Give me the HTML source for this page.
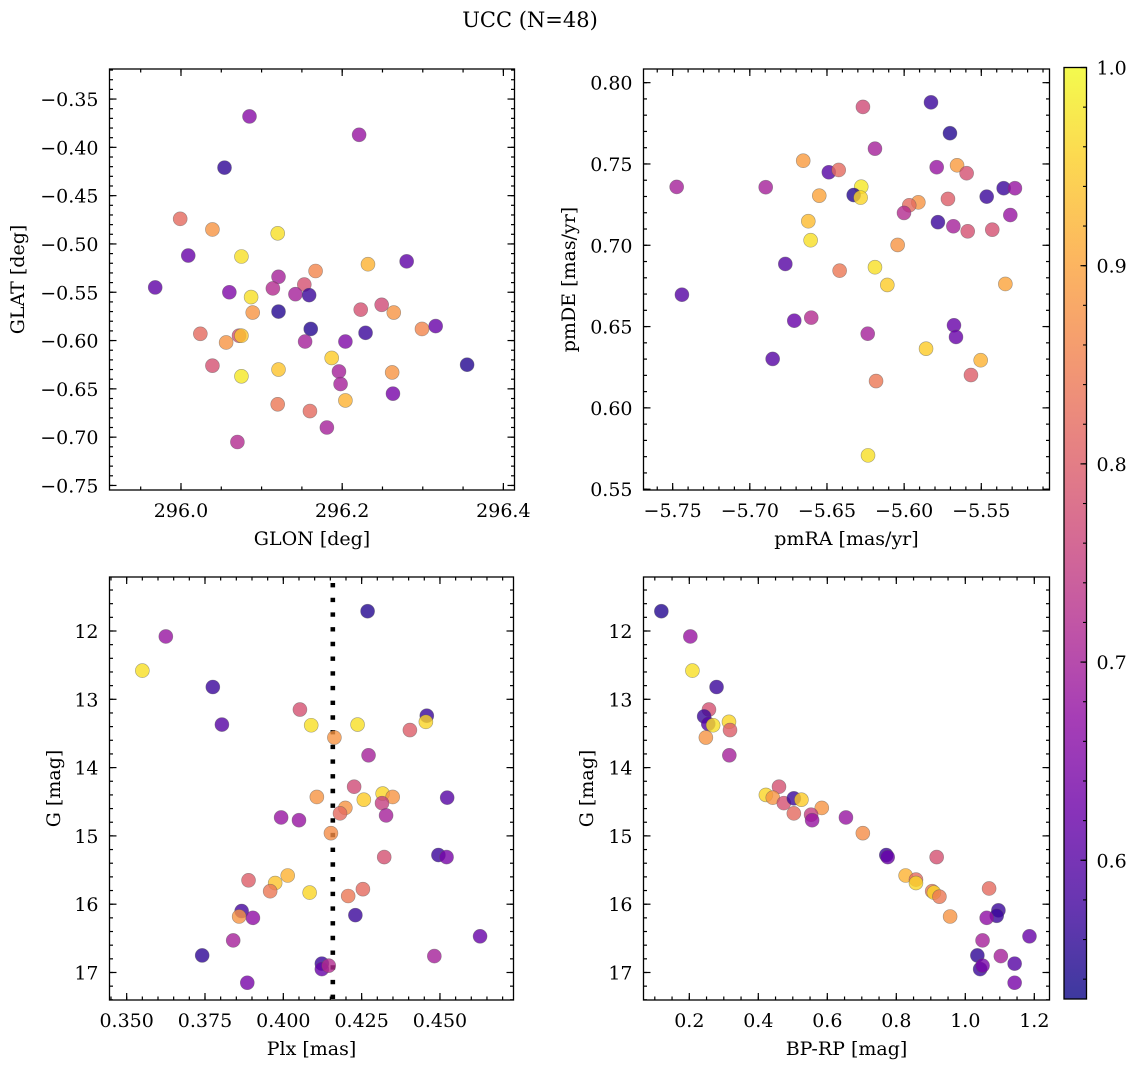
<!DOCTYPE html>
<html><head><meta charset="utf-8">
<style>
html,body{margin:0;padding:0;background:#fff;}
svg{display:block;font-family:"DejaVu Serif","Liberation Serif",serif;}
</style></head>
<body>
<svg id="fig" width="1136" height="1067" viewBox="0 0 1136 1067" xmlns="http://www.w3.org/2000/svg">
<text x="530" y="27" font-size="21" text-anchor="middle">UCC (N=48)</text>
</svg>
<script>
// ---- data (per panel) ----
const p1_glon=[296.085,296.221,296.054,295.999,296.039,296.120,296.009,296.075,296.280,296.232,296.167,296.121,296.114,295.968,296.153,296.060,296.087,296.142,296.159,296.223,296.249,296.121,296.089,296.264,296.299,296.316,296.161,296.229,296.024,296.072,296.075,296.056,296.154,296.204,296.187,296.355,296.039,296.196,296.262,296.121,296.075,296.198,296.263,296.204,296.120,296.160,296.181,296.070];
const p1_glat=[-0.368,-0.387,-0.421,-0.474,-0.485,-0.489,-0.512,-0.513,-0.518,-0.521,-0.528,-0.534,-0.546,-0.545,-0.542,-0.550,-0.555,-0.552,-0.553,-0.568,-0.563,-0.570,-0.571,-0.571,-0.588,-0.585,-0.588,-0.592,-0.593,-0.595,-0.595,-0.602,-0.601,-0.601,-0.618,-0.625,-0.626,-0.632,-0.633,-0.630,-0.637,-0.645,-0.655,-0.662,-0.666,-0.673,-0.690,-0.705];
const p1_prob=[0.66,0.68,0.56,0.82,0.88,0.97,0.62,0.97,0.61,0.92,0.86,0.70,0.72,0.61,0.78,0.65,0.97,0.70,0.57,0.78,0.77,0.55,0.88,0.88,0.86,0.62,0.55,0.57,0.82,0.78,0.94,0.88,0.70,0.65,0.95,0.55,0.78,0.70,0.88,0.94,0.98,0.70,0.64,0.92,0.84,0.82,0.70,0.72];

const p2_pmra=[-5.6267,-5.5826,-5.5703,-5.6189,-5.6654,-5.6488,-5.6424,-5.5789,-5.5657,-5.5595,-5.7474,-5.6897,-5.6278,-5.6327,-5.6282,-5.6550,-5.5355,-5.5282,-5.5465,-5.5716,-5.5908,-5.5967,-5.6001,-5.6621,-5.5781,-5.5681,-5.5312,-5.5588,-5.5429,-5.6606,-5.6042,-5.6770,-5.6418,-5.6189,-5.6109,-5.5344,-5.7440,-5.6712,-5.6602,-5.6236,-5.5677,-5.5664,-5.5858,-5.5504,-5.6852,-5.5567,-5.6182,-5.6234];
const p2_pmde=[0.7851,0.7879,0.7689,0.7594,0.7520,0.7449,0.7463,0.7480,0.7492,0.7443,0.7359,0.7357,0.7360,0.7309,0.7293,0.7305,0.7351,0.7351,0.7299,0.7285,0.7264,0.7246,0.7199,0.7148,0.7142,0.7117,0.7186,0.7086,0.7096,0.7031,0.7002,0.6885,0.6844,0.6865,0.6756,0.6762,0.6696,0.6536,0.6555,0.6456,0.6508,0.6436,0.6364,0.6293,0.6301,0.6202,0.6165,0.5708];
const p2_prob=[0.77,0.57,0.55,0.70,0.89,0.60,0.82,0.68,0.89,0.78,0.70,0.70,0.98,0.55,0.96,0.90,0.57,0.68,0.57,0.80,0.88,0.82,0.72,0.93,0.57,0.70,0.68,0.78,0.78,0.97,0.88,0.60,0.84,0.97,0.95,0.90,0.60,0.62,0.72,0.70,0.62,0.62,0.95,0.92,0.60,0.80,0.84,0.97];

const p3_plx=[0.355,0.3625,0.3775,0.3804,0.4269,0.4053,0.4089,0.4163,0.4237,0.4272,0.4404,0.4458,0.4455,0.4226,0.4107,0.4257,0.4317,0.4349,0.4315,0.4328,0.4198,0.4181,0.3993,0.4050,0.4523,0.4152,0.4322,0.4495,0.4521,0.3889,0.3974,0.4014,0.3958,0.4084,0.4207,0.4254,0.3867,0.3859,0.3903,0.4230,0.3840,0.4628,0.3741,0.4482,0.4123,0.4123,0.4145,0.3885];
const p3_g=[12.58,12.08,12.82,13.37,11.71,13.15,13.38,13.56,13.37,13.82,13.45,13.24,13.33,14.28,14.43,14.47,14.38,14.43,14.52,14.70,14.59,14.67,14.73,14.77,14.44,14.96,15.31,15.28,15.31,15.65,15.69,15.58,15.81,15.83,15.88,15.78,16.10,16.18,16.20,16.16,16.53,16.47,16.75,16.76,16.87,16.95,16.90,17.15];
const p3_prob=[0.97,0.68,0.57,0.60,0.55,0.78,0.97,0.88,0.97,0.70,0.80,0.57,0.96,0.77,0.88,0.95,0.96,0.88,0.75,0.70,0.88,0.82,0.68,0.68,0.60,0.87,0.78,0.57,0.64,0.80,0.94,0.92,0.84,0.96,0.84,0.82,0.58,0.88,0.67,0.57,0.70,0.62,0.56,0.70,0.57,0.62,0.72,0.64];
const plxMedian=0.4158;

const p4_bprp=[0.119,0.203,0.209,0.279,0.257,0.243,0.255,0.269,0.315,0.318,0.248,0.316,0.460,0.422,0.442,0.474,0.503,0.525,0.584,0.503,0.553,0.556,0.654,0.703,0.771,0.775,0.917,0.827,0.857,0.857,0.904,0.909,0.925,0.956,1.069,1.096,1.091,1.062,1.050,1.186,1.035,1.103,1.143,1.043,1.050,1.143];
const p4_g=[11.71,12.08,12.58,12.82,13.15,13.25,13.36,13.38,13.33,13.45,13.56,13.82,14.28,14.40,14.44,14.52,14.45,14.47,14.59,14.67,14.69,14.77,14.73,14.96,15.28,15.31,15.31,15.58,15.64,15.69,15.81,15.83,15.89,16.18,15.77,16.09,16.17,16.20,16.53,16.47,16.75,16.76,16.87,16.95,16.90,17.15];
const p4_prob=[0.55,0.68,0.97,0.57,0.78,0.57,0.60,0.97,0.96,0.80,0.88,0.70,0.78,0.96,0.88,0.78,0.57,0.95,0.88,0.82,0.75,0.68,0.68,0.87,0.57,0.62,0.78,0.92,0.82,0.96,0.84,0.96,0.84,0.88,0.82,0.57,0.57,0.67,0.70,0.62,0.56,0.70,0.60,0.57,0.64,0.64];

const cbTicks=[0.6,0.7,0.8,0.9,1.0];

// ---- helpers ----
const NS="http://www.w3.org/2000/svg";
const svg=document.getElementById('fig');
function mk(tag,attrs,parent){const e=document.createElementNS(NS,tag);for(const k in attrs)e.setAttribute(k,attrs[k]);(parent||svg).appendChild(e);return e;}
const VMIN=0.53,VMAX=1.0;
const FS=19;
const stops=[[13,8,135],[65,4,157],[106,0,168],[143,13,164],[177,42,144],[204,71,120],[225,100,98],[242,132,75],[252,166,54],[252,206,37],[240,249,33]];
function plasma(t){t=Math.max(0,Math.min(1,t));const f=t*10;const i=Math.min(9,Math.floor(f));const r=f-i;const a=stops[i],b=stops[i+1];
 return 'rgb('+[0,1,2].map(k=>Math.round(a[k]+(b[k]-a[k])*r)).join(',')+')';}
function cmap(p){return plasma((p-VMIN)/(VMAX-VMIN));}

function fmt(v,d){let s=v.toFixed(d);if(v<0)s='\u2212'+s.slice(1);return s;}

function panel(o){
  const g=mk('g',{});
  
  
  const sx=v=>o.L+(v-o.x0)/(o.x1-o.x0)*o.W;
  const sy=o.yinv?(v=>o.T+(v-o.y0)/(o.y1-o.y0)*o.H):(v=>o.T+o.H-(v-o.y0)/(o.y1-o.y0)*o.H);
  const tg=mk('g',{stroke:'#000','stroke-width':1.2},g);
  
  
  function range(a,b,st){const r=[];const s=Math.ceil(a/st-1e-6);for(let k=s;k*st<=b+1e-9;k++)r.push(+(k*st).toFixed(6));return r;}
  range(o.x0,o.x1,o.xmin).forEach(v=>{const X=sx(v);mk('line',{x1:X,x2:X,y1:o.T+o.H,y2:o.T+o.H-3.5},tg);mk('line',{x1:X,x2:X,y1:o.T,y2:o.T+3.5},tg);});
  range(o.x0,o.x1,o.xmaj).forEach(v=>{const X=sx(v);mk('line',{x1:X,x2:X,y1:o.T+o.H,y2:o.T+o.H-7},tg);mk('line',{x1:X,x2:X,y1:o.T,y2:o.T+7},tg);
    const t=mk('text',{x:X,y:o.T+o.H+27,'font-size':FS,'text-anchor':'middle',stroke:'none',fill:'#000'},g);
    
    
    t.textContent=fmt(v,o.xd);});
  const ylo=Math.min(o.y0,o.y1),yhi=Math.max(o.y0,o.y1);
  range(ylo,yhi,o.ymin).forEach(v=>{const Y=sy(v);mk('line',{x1:o.L,x2:o.L+3.5,y1:Y,y2:Y},tg);mk('line',{x1:o.L+o.W,x2:o.L+o.W-3.5,y1:Y,y2:Y},tg);});
  range(ylo,yhi,o.ymaj).forEach(v=>{const Y=sy(v);mk('line',{x1:o.L,x2:o.L+7,y1:Y,y2:Y},tg);mk('line',{x1:o.L+o.W,x2:o.L+o.W-7,y1:Y,y2:Y},tg);
    const t=mk('text',{x:o.L-11,y:Y+7,'font-size':FS,'text-anchor':'end',stroke:'none',fill:'#000'},g);
    
    
    t.textContent=fmt(v,o.yd);});
  if(o.vline!==undefined){const X=sx(o.vline);const l=mk('line',{x1:X,x2:X,y1:o.T+6,y2:o.T+o.H,stroke:'#000','stroke-width':4.6,'stroke-dasharray':'4.4 10.3'},g);
    
    }
  const pg=mk('g',{},g);
  
  
  for(let i=0;i<o.xs.length;i++){
    const c=mk('circle',{cx:sx(o.xs[i]),cy:sy(o.ys[i]),r:7,fill:cmap(o.ps[i]),'fill-opacity':0.8,stroke:'rgba(90,90,90,0.55)','stroke-width':0.6},pg);
    
    
  }
  const fr=mk('rect',{x:o.L,y:o.T,width:o.W,height:o.H,fill:'none',stroke:'#000','stroke-width':1.3},g);
  
  
  const xl=mk('text',{x:o.L+o.W/2,y:o.T+o.H+55,'font-size':FS,'text-anchor':'middle'},g);
  
  
  xl.textContent=o.xlabel;
  const yl=mk('text',{x:0,y:0,'font-size':FS,'text-anchor':'middle',transform:'translate('+o.ylx+','+(o.T+o.H/2)+') rotate(-90)'},g);
  
  
  yl.textContent=o.ylabel;
}

panel({name:'glon-glat-panel',L:109.5,T:69,W:405,H:421,x0:295.9113,x1:296.4138,y0:-0.7547,y1:-0.3189,
  xmaj:0.2,xmin:0.05,xd:1,ymaj:0.05,ymin:0.01,yd:2,xs:p1_glon,ys:p1_glat,ps:p1_prob,xlabel:'GLON [deg]',ylabel:'GLAT [deg]',ylx:24});
panel({name:'pm-panel',L:643.5,T:69,W:406,H:421,x0:-5.7689,x1:-5.5058,y0:0.5495,y1:0.8084,
  xmaj:0.05,xmin:0.01,xd:2,ymaj:0.05,ymin:0.01,yd:2,xs:p2_pmra,ys:p2_pmde,ps:p2_prob,xlabel:'pmRA [mas/yr]',ylabel:'pmDE [mas/yr]',ylx:575});
panel({name:'plx-g-panel',L:109.5,T:577,W:404,H:423,x0:0.34452,x1:0.47347,y0:11.2094,y1:17.4027,yinv:true,
  xmaj:0.025,xmin:0.005,xd:3,ymaj:1,ymin:0.2,yd:0,xs:p3_plx,ys:p3_g,ps:p3_prob,xlabel:'Plx [mas]',ylabel:'G [mag]',ylx:60,vline:plxMedian});
panel({name:'cmd-panel',L:643.5,T:577,W:406,H:423,x0:0.06725,x1:1.24406,y0:11.2094,y1:17.4027,yinv:true,
  xmaj:0.2,xmin:0.05,xd:1,ymaj:1,ymin:0.2,yd:0,xs:p4_bprp,ys:p4_g,ps:p4_prob,xlabel:'BP-RP [mag]',ylabel:'G [mag]',ylx:593});

// ---- colorbar ----
(function(){
  const L=1064,T=67.5,W=22.5,B=999;
  const cb=mk('g',{});
  
  
  const defs=mk('defs',{},cb);
  const lg=mk('linearGradient',{id:'cbg',x1:0,y1:1,x2:0,y2:0},defs);
  for(let i=0;i<=20;i++){mk('stop',{offset:(i/20),'stop-color':plasma(i/20)},lg);}
  mk('rect',{x:L,y:T,width:W,height:B-T,fill:'url(#cbg)','fill-opacity':0.8},cb);
  const sy=v=>B-(v-VMIN)/(VMAX-VMIN)*(B-T);
  for(let v=0.54;v<=1.0001;v+=0.02){const Y=sy(v);mk('line',{x1:L+W,x2:L+W-3.5,y1:Y,y2:Y,stroke:'#000','stroke-width':1.1},cb);}
  cbTicks.forEach(v=>{const Y=sy(v);mk('line',{x1:L+W,x2:L+W-6,y1:Y,y2:Y,stroke:'#000','stroke-width':1.2},cb);
    const t=mk('text',{x:L+W+10,y:Y+7,'font-size':FS},cb);
    
    
    t.textContent=v.toFixed(1);});
  const fr=mk('rect',{x:L,y:T,width:W,height:B-T,fill:'none',stroke:'#000','stroke-width':1.3},cb);
  
  
})();
</script>
</body></html>
